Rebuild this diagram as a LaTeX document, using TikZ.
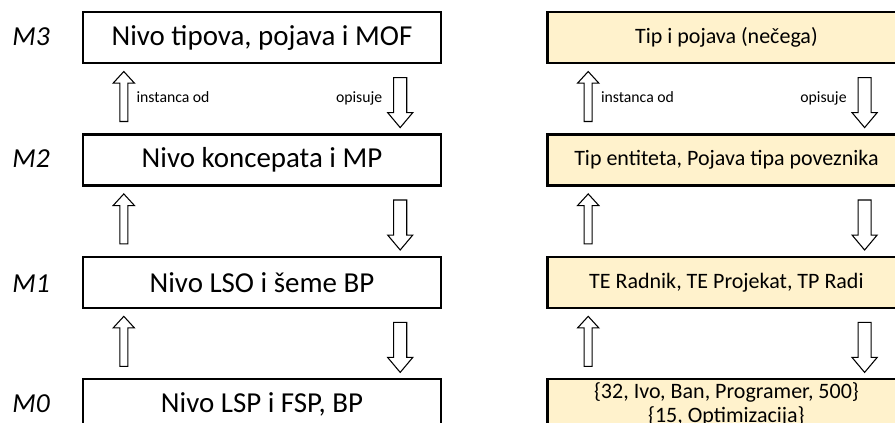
\documentclass[tikz,border=0pt]{standalone}
\usepackage{fontspec}
\setmainfont{Carlito}
\usetikzlibrary{positioning,calc,shapes.arrows}
\definecolor{levelfill}{HTML}{FFF2CC}
\tikzset{
    level/.style={
      rectangle,
           draw=black, line width=1.8pt,
           inner sep=1pt,
           text centered,
           minimum width=268.5pt,
           minimum height=38.25pt,
           font=\fontsize{21.7pt}{26pt}\selectfont,
           },
}
\tikzset{
    example/.style={
      level,
           fill=levelfill,
           align=center,
           font=\fontsize{16.5pt}{18pt}\selectfont,
           },
}
\tikzset{
    uparr/.style={
      single arrow,
           draw=black, line width=0.8pt,
           shape border rotate=90,
           inner sep=2.6pt,
           single arrow head extend=5pt,
           single arrow tip angle=85,
           single arrow head indent=0pt,
           minimum height=37.5pt,
           },
}
\tikzset{
    downarr/.style={
      single arrow,
           draw=black, line width=0.8pt,
           shape border rotate=270,
           inner sep=4.5pt,
           single arrow head extend=4.5pt,
           single arrow tip angle=80,
           single arrow head indent=0pt,
           minimum height=37.5pt,
           },
}
\tikzset{
    tag/.style={font=\fontsize{11.8pt}{14pt}\selectfont, inner sep=0pt,
           text height=1.5ex, text depth=0.3ex},
    mlabel/.style={font=\fontsize{20.6pt}{24pt}\selectfont\itshape, anchor=base},
}
\begin{document}
\begin{tikzpicture}

\clip (0,0) rectangle (671.25pt,-316.5pt);

% levels, left column
\node[level](m3) at (196.5pt,-28.125pt){Nivo tipova, pojava i MOF};
\node[level,below = 51.75pt of m3](m2){Nivo koncepata i MP};
\node[level,below = 51.75pt of m2](m1){Nivo LSO i šeme BP};
\node[level,below = 51.75pt of m1](m0){Nivo LSP i FSP, BP};

\node[mlabel] at (23.25pt,0 |- m3.base) (lm3){M3};
\node[mlabel] at (23.25pt,0 |- m2.base) (lm2){M2};
\node[mlabel] at (23.25pt,0 |- m1.base) (lm1){M1};
\node[mlabel] at (23.25pt,0 |- m0.base) (lm0){M0};

% examples, right column
\node[example,right = 78pt of m3](e3){Tip i pojava (nečega)};
\node[example,right = 78pt of m2](e2){Tip entiteta, Pojava tipa poveznika};
\node[example,right = 78pt of m1](e1){TE Radnik, TE Projekat, TP Radi};
\node[example,right = 78pt of m0](e0){\{32, Ivo, Ban, Programer, 500\}\\\{15, Optimizacija\}};

% block arrows between levels
\foreach \lo/\hi in {m2/m3,m1/m2,m0/m1,e2/e3,e1/e2,e0/e1}{
  \node[uparr] (up-\lo) at ([xshift=31.5pt]$(\lo.north west)!0.5!(\hi.south west)$){};
  \node[downarr] (dn-\lo) at ([xshift=-31.5pt]$(\lo.north east)!0.5!(\hi.south east)$){};
}

\node[tag,right = 6pt of up-m2](io1){instanca od};
\node[tag,left = 8pt of dn-m2](op1){opisuje};
\node[tag,right = 6pt of up-e2](io2){instanca od};
\node[tag,left = 8pt of dn-e2](op2){opisuje};

\end{tikzpicture}
\end{document}
